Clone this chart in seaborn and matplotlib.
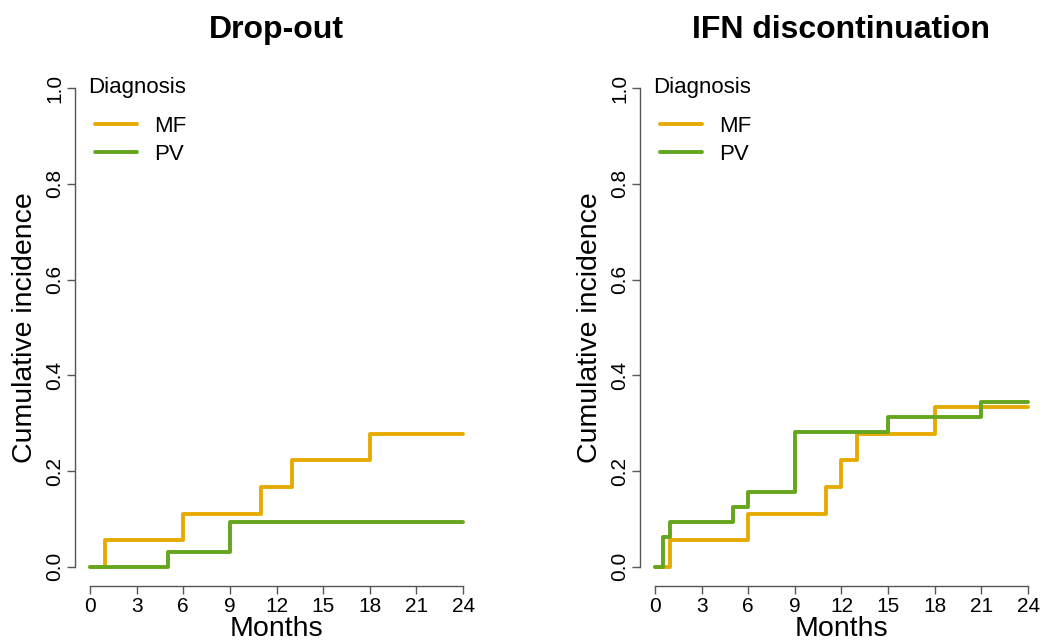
import matplotlib
matplotlib.use("Agg")
import matplotlib.pyplot as plt
import seaborn as sns
import pandas as pd

# Drop-out panel
drop_mf_t = [0, 1, 6, 11, 13, 18, 24]
drop_mf_y = [0.0, 0.0556, 0.1111, 0.1667, 0.2222, 0.2778, 0.2778]
drop_pv_t = [0, 5, 9, 24]
drop_pv_y = [0.0, 0.03125, 0.09375, 0.09375]

# IFN discontinuation panel
ifn_mf_t = [0, 1, 6, 11, 12, 13, 18, 24]
ifn_mf_y = [0.0, 0.0556, 0.1111, 0.1667, 0.2222, 0.2778, 0.3333, 0.3333]
ifn_pv_t = [0, 0.5, 1, 5, 6, 9, 15, 21, 24]
ifn_pv_y = [0.0, 0.0625, 0.09375, 0.125, 0.15625, 0.28125, 0.3125, 0.34375, 0.34375]

titles = ["Drop-out", "IFN discontinuation"]
x_ticks = [0, 3, 6, 9, 12, 15, 18, 21, 24]
y_ticks = [0.0, 0.2, 0.4, 0.6, 0.8, 1.0]
groups = ["MF", "PV"]
colors = {"MF": "#E6AB02", "PV": "#66A61E"}

sns.set_style("white")
plt.rcParams["font.family"] = ["Liberation Sans", "DejaVu Sans"]
plt.rcParams["text.color"] = "black"
plt.rcParams["axes.labelcolor"] = "black"
plt.rcParams["xtick.color"] = "#555555"
plt.rcParams["ytick.color"] = "#555555"
plt.rcParams["xtick.labelcolor"] = "black"
plt.rcParams["ytick.labelcolor"] = "black"

def make_df(mf_t, mf_y, pv_t, pv_y):
    return pd.concat([
        pd.DataFrame({"Months": mf_t, "CI": mf_y, "Diagnosis": "MF"}),
        pd.DataFrame({"Months": pv_t, "CI": pv_y, "Diagnosis": "PV"}),
    ], ignore_index=True)

dfs = [make_df(drop_mf_t, drop_mf_y, drop_pv_t, drop_pv_y),
       make_df(ifn_mf_t, ifn_mf_y, ifn_pv_t, ifn_pv_y)]

W, H = 1044, 642
fig = plt.figure(figsize=(W / 100, H / 100), dpi=100)
lefts = [75, 640]
for i, (df, title) in enumerate(zip(dfs, titles)):
    ax = fig.add_axes([lefts[i] / W, (H - 586) / H, 403 / W, 517 / H])
    sns.lineplot(data=df, x="Months", y="CI", hue="Diagnosis", palette=colors,
                 estimator=None, sort=False, drawstyle="steps-post",
                 linewidth=2.8, ax=ax, legend=False)
    ax.set_xlim(-0.96, 24.96)
    ax.set_ylim(-0.04, 1.04)
    ax.set_xticks(x_ticks)
    ax.set_yticks(y_ticks)
    ax.set_xticklabels([str(t) for t in x_ticks], fontsize=15)
    ax.set_yticklabels([f"{t:.1f}" for t in y_ticks], fontsize=15,
                       rotation=90, va="center")
    for s in ["top", "right"]:
        ax.spines[s].set_visible(False)
    for s in ["left", "bottom"]:
        ax.spines[s].set_color("#555555")
        ax.spines[s].set_linewidth(1.0)
    ax.spines["left"].set_bounds(0, 1)
    ax.spines["bottom"].set_bounds(0, 24)
    ax.tick_params(axis="both", length=6, width=1.0,
                   direction="out", pad=2, left=True, bottom=True)
    ax.set_xlabel("Months", fontsize=20.5, labelpad=0)
    ax.set_ylabel("Cumulative incidence", fontsize=20.5, labelpad=5)
    ax.set_title(title, fontsize=23, fontweight="bold", pad=22, color="black")
    x0 = lefts[i] + 13
    fig.text(x0 / W, 1 - 88 / H, "Diagnosis", fontsize=16, va="center",
             ha="left", color="black")
    handles = [plt.Line2D([], [], color=colors[k], lw=2.8) for k in groups]
    ax.legend(handles, groups, loc="upper left",
              bbox_to_anchor=((x0 + 7) / W, 1 - 116 / H),
              bbox_transform=fig.transFigure, frameon=False, fontsize=16,
              handlelength=1.9, handletextpad=0.75, labelspacing=0.3,
              borderpad=0, borderaxespad=0)
fig.savefig("out.png", dpi=100)
